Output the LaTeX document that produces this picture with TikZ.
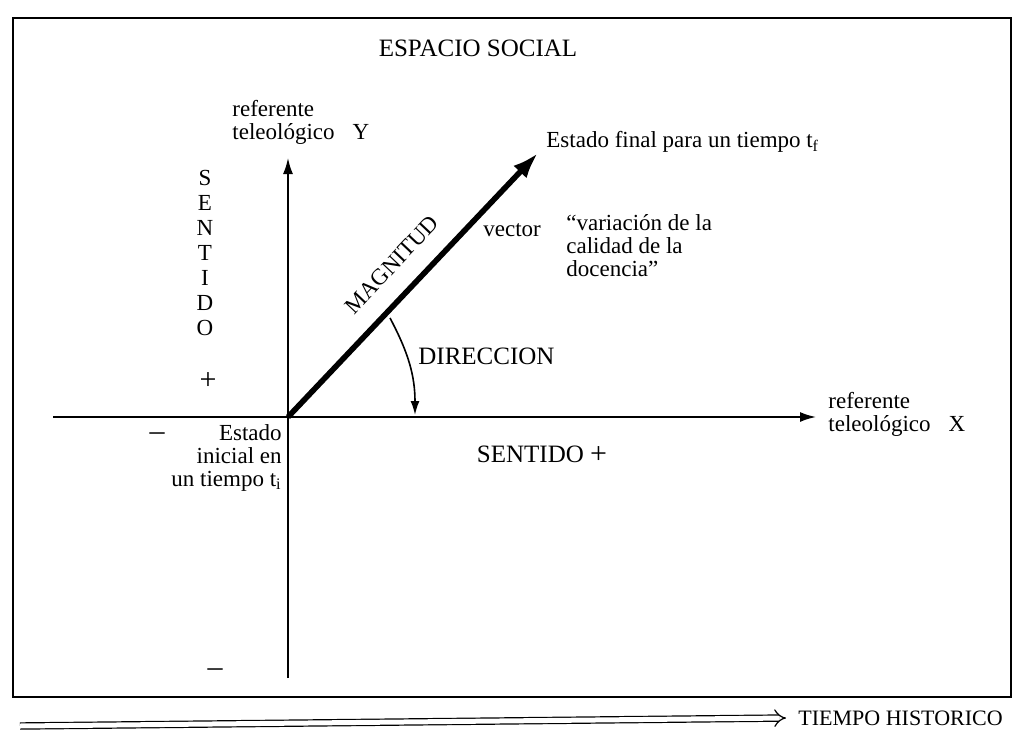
\documentclass[tikz,border=0pt]{standalone}
\usepackage{fontspec}
\setmainfont{Liberation Serif}
\usetikzlibrary{arrows.meta, positioning}

\tikzset{
  axis/.style={line width=0.9pt, -{Latex[length=8pt, width=5pt]}},
  vec/.style={line width=2.8pt, -{Latex[length=13pt, width=9pt]}},
  label/.style={inner sep=0pt, align=left},
  sign/.style={inner sep=0pt, font=\fontsize{15}{15}\selectfont}
}

\begin{document}
\begin{tikzpicture}[x=0.5pt, y=-0.5pt, font=\fontsize{11.5}{12.5}\selectfont]
  \useasboundingbox (0,0) rectangle (1018,734);
  \draw[line width=0.9pt] (13,18) rectangle (1011,697);

  % ejes
  \coordinate (o) at (288,417);
  \coordinate (ytop) at (288,158);
  \coordinate (ybot) at (288,678);
  \coordinate (xizq) at (53,417);
  \coordinate (xder) at (816,417);
  \coordinate (vfin) at (538,153);
  \draw[axis] (ybot) -- (ytop);
  \draw[axis] (xizq) -- (xder);
  \draw[vec] (o) -- (vfin)
    node[pos=0.5, sloped, above=6pt, font=\fontsize{11.5}{12}\selectfont] (mag) {MAGNITUD};

  % direccion
  \coordinate (dini) at (390,318);
  \coordinate (dfin) at (415,415);
  \draw[line width=0.8pt, -{Latex[length=7pt, width=4.5pt]}] (dini) to[out=-62, in=90] (dfin);

  \node (titulo) at (478,48) {\fontsize{12.5}{13}\selectfont ESPACIO SOCIAL};
  \node[label, anchor=west] (refy) at (232,122) {referente\\[-1pt]teleológico\hspace{9pt}Y};
  \node[label, anchor=west] (refx) at (828,414) {referente\\[-1pt]teleológico\hspace{9pt}X};
  \node[label, anchor=west] (final) at (546,142) {Estado final para un tiempo t\textsubscript{f}};
  \node[label, anchor=west] (vector) at (483,230) {vector};
  \node[label, anchor=north west] (calidad) at (566,214) {``variación de la\\[-1pt]calidad de la\\[-1pt]docencia''};
  \node[label, anchor=west] (direccion) at (418,356) {\fontsize{12.5}{13}\selectfont DIRECCION};
  \node[label] (sentx) at (542,455) {\fontsize{12.5}{13}\selectfont SENTIDO \raisebox{-0.5pt}{\fontsize{15}{15}\selectfont +}};
  \node[label, align=right, anchor=north east] (inicial) at (282,424) {Estado\\[-1pt]inicial en\\[-1pt]un tiempo t\textsubscript{i}};

  % sentido vertical
  \foreach \letra [count=\i] in {S,E,N,T,I,D,O}
    \node[inner sep=0pt] (sy\i) at (205,153+25*\i) {\letra};
  \node[sign] (mas) at (208,381) {+};
  \node[sign] (menosx) at (157,437) {\textendash};
  \node[sign] (menosy) at (215,673) {\textendash};

  % tiempo historico
  \coordinate (tini) at (20,726);
  \coordinate (tfin) at (786,718);
  \node[label, anchor=west, font=\fontsize{11}{12}\selectfont, right=6pt of tfin] (tiempo) {TIEMPO HISTORICO};
  \draw[double, double distance=2.5pt, line width=0.6pt, -{Implies[length=6pt]}] (tini) -- (tfin);
\end{tikzpicture}
\end{document}
